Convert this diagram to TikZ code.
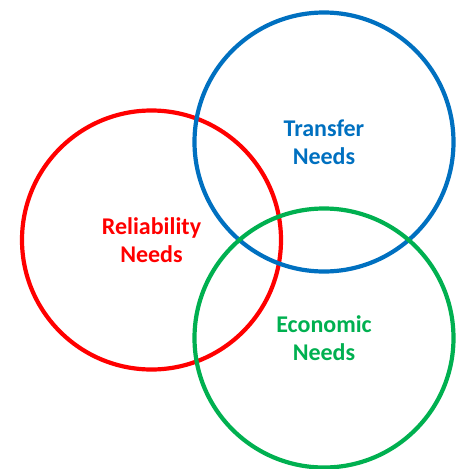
\documentclass[tikz,border=0pt]{standalone}
\usepackage{fontspec}
\setmainfont{Carlito}
\usepackage{xcolor}
\usepackage{tikz}
\usetikzlibrary{positioning}

\definecolor{relred}{HTML}{FF0000}
\definecolor{trablue}{HTML}{0070C0}
\definecolor{ecogreen}{HTML}{00B050}

\begin{document}
\begin{tikzpicture}[
  x=1pt, y=-1pt,
  need/.style={circle, line width=4.2pt, minimum size=259pt, inner sep=0pt, align=center,
    font=\fontsize{24}{28}\selectfont\bfseries},
  relneed/.style={need, draw=relred, text=relred},
  traneed/.style={need, draw=trablue, text=trablue},
  econeed/.style={need, draw=ecogreen, text=ecogreen}
]
\useasboundingbox (0,0) rectangle (459,469);
\node[relneed] (rel) at (151.5,240) {Reliability\\Needs};
\node[traneed] (tra) at (324,142) {Transfer\\Needs};
\node[econeed] (eco) at (324,338) {Economic\\Needs};
\end{tikzpicture}
\end{document}
